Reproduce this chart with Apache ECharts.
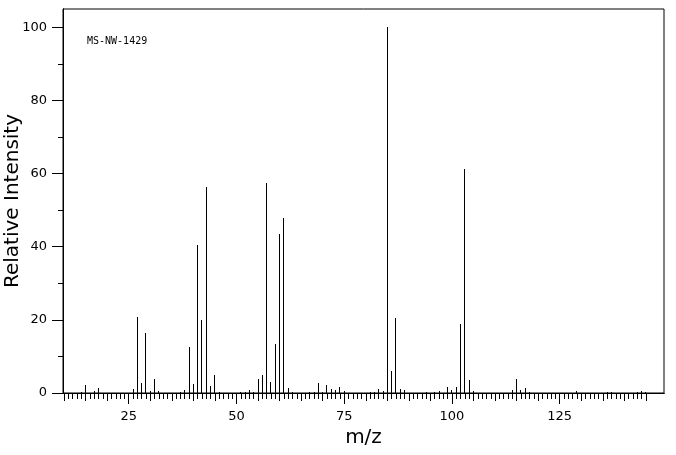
<!DOCTYPE html>
<html>
<head>
<meta charset="utf-8">
<script src="https://cdn.jsdelivr.net/npm/echarts@6/dist/echarts.min.js"></script>
<style>html,body{margin:0;padding:0;background:#fff;}#c{width:676px;height:455px;}</style>
</head>
<body>
<div id="c"></div>
<script>
// m/z values and relative intensities
var mz = [14,15,17,18,26,27,28,29,30,31,32,37,38,39,40,41,42,43,44,45,46,51,52,53,54,55,56,57,58,59,60,61,62,63,67,68,69,70,71,72,73,74,75,81,82,83,84,85,86,87,88,89,94,96,97,99,100,101,102,103,104,105,114,115,116,117,118,129,136,137,143,144,145];
var intensity = [0.4,2.2,0.5,1.4,1.1,20.8,2.7,16.4,0.5,3.8,0.5,0.3,0.9,12.7,2.5,40.5,20.0,56.2,1.9,4.9,0.3,0.3,0.3,0.8,0.3,3.9,4.9,57.5,3.0,13.4,43.6,47.9,1.4,0.3,0.3,0.4,2.7,0.4,2.2,1.1,0.9,1.6,0.5,0.3,0.3,1.1,0.5,100,6.0,20.5,1.1,0.8,0.3,0.4,0.5,1.6,0.8,1.6,18.9,61.3,3.6,0.5,0.8,3.8,0.8,1.4,0.4,0.5,0.3,0.3,0.3,0.5,0.3];
var xLabelTicks = [25,50,75,100,125];
var xMidTicks = [10,15,20,30,35,40,45,55,60,65,70,80,85,90,95,105,110,115,120,130,135,140,145];
var xMinorTicks = [];
for (var m = 10; m <= 145; m++) xMinorTicks.push(m);
var yLabelTicks = [0,20,40,60,80,100];
var yMinorTicks = [10,30,50,70,90];
var xRange = [9.76, 149.19];
var yRange = [0, 105];
var sampleId = 'MS-NW-1429';

var data = mz.map(function (v, i) { return [v, intensity[i]]; });
var FONT = 'DejaVu Sans';
var axisLineStyle = { show: true, lineStyle: { color: '#000', width: 1 } };

function xAx(ticks, len, labels, extra) {
  var a = {
    type: 'value', min: xRange[0], max: xRange[1], position: 'bottom',
    axisLine: axisLineStyle, splitLine: { show: false },
    axisTick: { show: true, customValues: ticks, length: len, lineStyle: { color: '#000', width: 1 } },
    axisLabel: labels ? { show: true, customValues: labels, color: '#000', fontFamily: FONT, fontSize: 13, margin: 17 } : { show: false }
  };
  for (var k in extra) a[k] = extra[k];
  return a;
}
function yAx(ticks, len, labels, extra) {
  var a = {
    type: 'value', min: yRange[0], max: yRange[1], position: 'left',
    axisLine: axisLineStyle, splitLine: { show: false },
    axisTick: { show: true, customValues: ticks, length: len, lineStyle: { color: '#000', width: 1 } },
    axisLabel: labels ? { show: true, customValues: labels, color: '#000', fontFamily: FONT, fontSize: 13, margin: 16 } : { show: false }
  };
  for (var k in extra) a[k] = extra[k];
  return a;
}

var chart = echarts.init(document.getElementById('c'), null, { renderer: 'canvas' });
chart.setOption({
  backgroundColor: '#fff',
  animation: false,
  grid: { left: 63, right: 12, top: 9, bottom: 62, outerBoundsMode: 'none', containLabel: false,
    show: true, borderColor: '#000', borderWidth: 1, backgroundColor: 'transparent' },
  xAxis: [
    xAx(xMinorTicks, 6, null, {}),
    xAx(xMidTicks, 8, null, {}),
    xAx(xLabelTicks, 11, xLabelTicks, { name: 'm/z', nameLocation: 'middle', nameGap: 35, nameMoveOverlap: false,
      nameTextStyle: { color: '#000', fontFamily: FONT, fontSize: 20 } })
  ],
  yAxis: [
    yAx(yLabelTicks, 11, yLabelTicks, { name: 'Relative Intensity', nameLocation: 'middle', nameRotate: 90, nameGap: 40, nameMoveOverlap: false,
      nameTextStyle: { color: '#000', fontFamily: FONT, fontSize: 20 } }),
    yAx(yMinorTicks, 5, null, {})
  ],
  graphic: [{
    type: 'text', left: 87, top: 36,
    style: { text: sampleId, fill: '#000', font: '10px "DejaVu Sans Mono"' }
  }],
  series: [{
    type: 'custom',
    xAxisIndex: 0, yAxisIndex: 0,
    data: data,
    renderItem: function (params, api) {
      var top = api.coord([api.value(0), api.value(1)]);
      var base = api.coord([api.value(0), 0]);
      var x = Math.floor(top[0]);
      return { type: 'rect', shape: { x: x, y: Math.round(top[1]), width: 1, height: Math.round(base[1]) - Math.round(top[1]) }, style: { fill: '#000' } };
    }
  }]
});
</script>
</body>
</html>
